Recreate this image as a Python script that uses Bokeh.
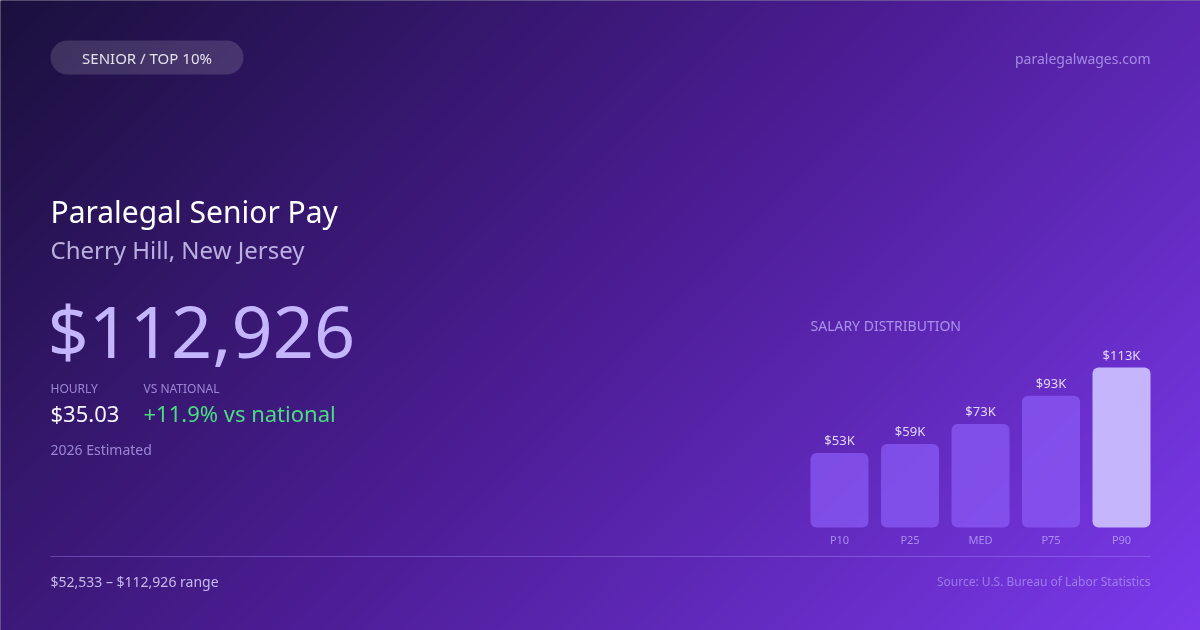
import numpy as np
from bokeh.plotting import figure
from bokeh.models import Range1d, ColumnDataSource, Label
from bokeh.core.properties import value
from bokeh.embed import file_html
from bokeh.resources import INLINE

# ---------------- data ----------------
categories = ["P10", "P25", "MED", "P75", "P90"]
salaries = [52533, 59000, 73000, 93000, 112926]
bar_labels = ["$53K", "$59K", "$73K", "$93K", "$113K"]

badge_text = "SENIOR / TOP 10%"
site_text = "paralegalwages.com"
title_text = "Paralegal Senior Pay"
subtitle_text = "Cherry Hill, New Jersey"
headline_value = "$112,926"
hourly_label = "HOURLY"
hourly_value = "$35.03"
national_label = "VS NATIONAL"
national_value = "+11.9% vs national"
estimate_text = "2026 Estimated"
dist_title = "SALARY DISTRIBUTION"
range_text = "$52,533 \u2013 $112,926 range"
source_text = "Source: U.S. Bureau of Labor Statistics"

# ---------------- layout ----------------
W, H = 1200, 630
FONT = "Noto Sans"


def sy(Y):
    """screen y (from top) -> data y"""
    return H - Y


p = figure(width=W, height=H, x_range=Range1d(0, W), y_range=Range1d(0, H),
           output_backend="svg", toolbar_location=None, min_border=0)
p.axis.visible = False
p.grid.visible = False
p.outline_line_color = None
p.background_fill_color = "#1c1240"
p.border_fill_color = "#1c1240"
p.styles = {"position": "fixed", "left": "0px", "top": "0px", "margin": "0px"}

# background gradient (135deg)
gh, gw = 315, 600
rows, cols = np.mgrid[0:gh, 0:gw]
Xs = (cols + 0.5) * (W / gw)
Ys = H - (rows + 0.5) * (H / gh)
L = W * 0.70710678 + H * 0.70710678
t = 0.5 + ((Xs - W / 2) + (Ys - H / 2)) * 0.70710678 / L
stops = [0.0, 0.5, 1.0]
cr = [0x1a, 0x4c, 0x7c]
cg = [0x10, 0x1d, 0x3a]
cb = [0x3c, 0x95, 0xed]
img = np.empty((gh, gw), dtype=np.uint32)
view = img.view(dtype=np.uint8).reshape((gh, gw, 4))
view[:, :, 0] = np.interp(t, stops, cr).astype(np.uint8)
view[:, :, 1] = np.interp(t, stops, cg).astype(np.uint8)
view[:, :, 2] = np.interp(t, stops, cb).astype(np.uint8)
view[:, :, 3] = 255
p.image_rgba(image=[img], x=-3, y=-3, dw=W + 6, dh=H + 6)


def label(x, Y, text, size, color, alpha=1.0, align="left"):
    p.add_layout(Label(x=x, y=sy(Y), text=text, text_font=FONT, text_font_size=f"{size}px",
                       text_color=color, text_alpha=alpha, text_align=align,
                       text_baseline="middle"))


# badge
p.quad(left=[50], right=[243], bottom=[sy(74)], top=[sy(40)], fill_color="white",
       fill_alpha=0.14, line_color=None, border_radius=17)
label(146.5, 57, badge_text, 15, "#ffffff", 0.85, align="center")
label(1150, 58, site_text, 14, "#c4b5fd", 0.7, align="right")

# headline block
label(50, 211, title_text, 30, "#ffffff")
label(50, 249, subtitle_text, 24, "#ddd6fe", 0.8)
label(47, 329, headline_value, 72, "#c4b5fd")
label(50, 388, hourly_label, 12, "#c4b5fd", 0.7)
label(143, 388, national_label, 12, "#c4b5fd", 0.7)
label(50, 412, hourly_value, 22, "#f5f3ff")
label(143, 412, national_value, 22, "#4ade80")
label(50, 449, estimate_text, 14, "#c4b5fd", 0.7)

# salary distribution chart
label(810, 325, dist_title, 14, "#c4b5fd", 0.75)

base_px = 527          # screen y of bar baseline
tall_px = 160          # pixel height of tallest bar
vmax = max(salaries)
k = vmax / tall_px
start = -(H - base_px) * k
p.extra_y_ranges = {"bars": Range1d(start, start + H * k)}

bar_w = 58
step = 70.5
left0 = 810
xs = [left0 + bar_w / 2 + i * step for i in range(len(categories))]
colors = ["#8b5cf6"] * (len(categories) - 1) + ["#c4b5fd"]
alphas = [0.72] * (len(categories) - 1) + [1.0]
src = ColumnDataSource(dict(x=xs, top=salaries, cat=categories, lab=bar_labels,
                            color=colors, alpha=alphas))
p.vbar(x="x", width=bar_w, bottom=0, top="top", source=src, y_range_name="bars",
       fill_color="color", fill_alpha="alpha", line_color=None, border_radius=6)
p.text(x="x", y="top", text="lab", source=src, y_range_name="bars", y_offset=-13,
       text_align="center", text_baseline="middle", text_font=value(FONT),
       text_font_size="13px", text_color="#ede9fe", text_alpha=0.9)
p.text(x="x", y=0, text="cat", source=src, y_range_name="bars", y_offset=12,
       text_align="center", text_baseline="middle", text_font=value(FONT),
       text_font_size="11px", text_color="#c4b5fd", text_alpha=0.7)

# footer
p.segment(x0=[50], x1=[1150], y0=[sy(556)], y1=[sy(556)], line_color="#a78bfa",
          line_alpha=0.4, line_width=1)
label(50, 581, range_text, 14, "#ddd6fe", 0.85)
label(1150, 581, source_text, 12, "#c4b5fd", 0.55, align="right")

open("out.html", "w").write(file_html(p, INLINE))
